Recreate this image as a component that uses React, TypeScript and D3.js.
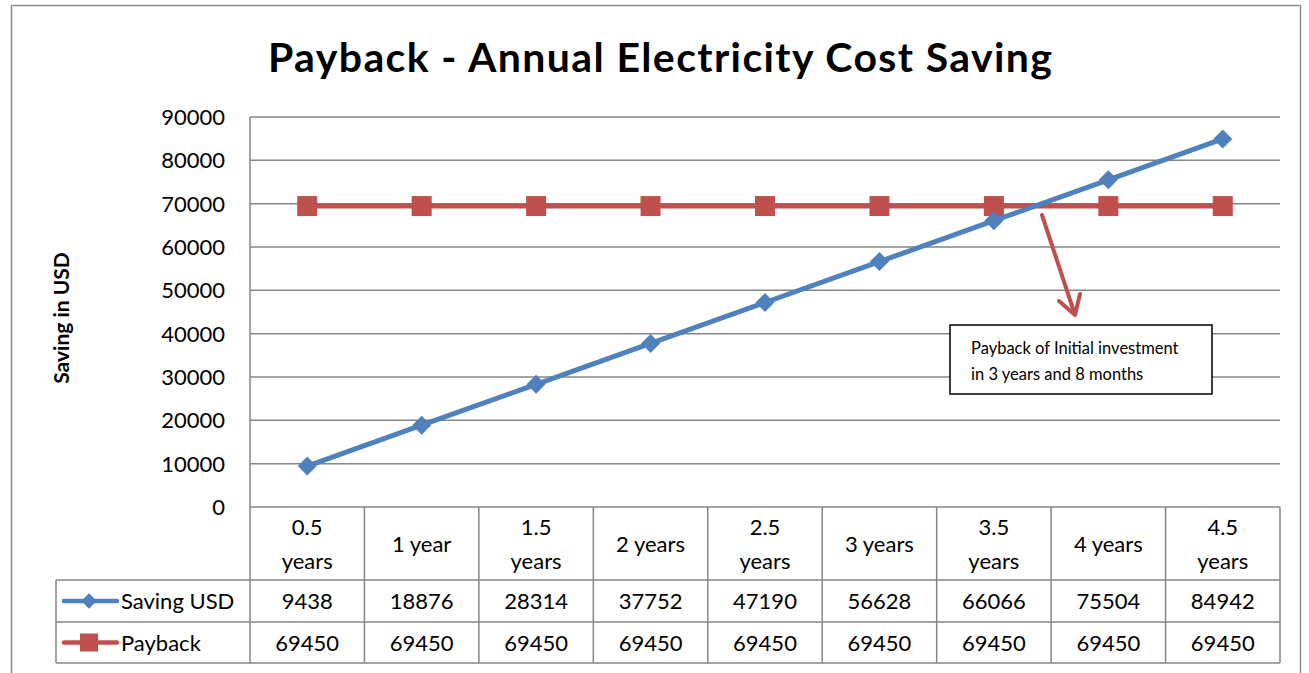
import React, { useEffect, useRef } from 'react';
import * as d3 from 'd3';

const categories = [
  ['0.5', 'years'],
  ['1 year'],
  ['1.5', 'years'],
  ['2 years'],
  ['2.5', 'years'],
  ['3 years'],
  ['3.5', 'years'],
  ['4 years'],
  ['4.5', 'years']
];
const savingUsd = [9438, 18876, 28314, 37752, 47190, 56628, 66066, 75504, 84942];
const payback = [69450, 69450, 69450, 69450, 69450, 69450, 69450, 69450, 69450];
const yTicks = [0, 10000, 20000, 30000, 40000, 50000, 60000, 70000, 80000, 90000];
const seriesNames = ['Saving USD', 'Payback'];

const BLUE = '#4f81bd';
const RED = '#c0504d';
const GRID = '#868686';
const FONT = 'Lato, "Open Sans", sans-serif';

const App = () => {
  const svgRef = useRef<SVGSVGElement>(null);
  const width = 1309;
  const height = 673;

  useEffect(() => {
    const svg = d3.select(svgRef.current);
    svg.selectAll('*').remove();

    const plot = { left: 250, right: 1280, top: 117, bottom: 507 };
    const tableLeft = 56;
    const rowY = [507, 580, 622, 663];

    const x = d3.scaleBand<number>()
      .domain(d3.range(categories.length))
      .range([plot.left, plot.right])
      .padding(0);
    const y = d3.scaleLinear().domain([0, 90000]).range([plot.bottom, plot.top]);
    const cx = (i: number) => (x(i) as number) + x.bandwidth() / 2;

    // marco exterior
    svg.append('rect')
      .attr('x', 11.5).attr('y', 5.5)
      .attr('width', 1289).attr('height', 700)
      .attr('fill', '#fff').attr('stroke', '#8c8c8c').attr('stroke-width', 1.5);

    // titulo
    svg.append('text')
      .attr('x', 660).attr('y', 72)
      .attr('text-anchor', 'middle')
      .attr('font-family', FONT).attr('font-weight', 'bold').attr('font-size', 41)
      .attr('textLength', 784).attr('lengthAdjust', 'spacing')
      .text('Payback - Annual Electricity Cost Saving');

    // titulo eje Y
    svg.append('text')
      .attr('transform', `translate(69,318) rotate(-90)`)
      .attr('text-anchor', 'middle')
      .attr('font-family', FONT).attr('font-weight', 'bold').attr('font-size', 21)
      .text('Saving in USD');

    // rejilla
    svg.append('g').selectAll('line')
      .data(yTicks)
      .enter().append('line')
      .attr('x1', plot.left).attr('x2', plot.right)
      .attr('y1', d => y(d)).attr('y2', d => y(d))
      .attr('stroke', GRID).attr('stroke-width', 1.5);

    // etiquetas eje Y
    svg.append('g').selectAll('text')
      .data(yTicks)
      .enter().append('text')
      .attr('x', 225).attr('y', d => y(d) + 8)
      .attr('text-anchor', 'end')
      .attr('font-family', FONT).attr('font-size', 22)
      .text(d => String(d));

    // tabla de datos
    const table = svg.append('g').attr('stroke', GRID).attr('stroke-width', 1.5);
    table.append('line')
      .attr('x1', plot.left).attr('x2', plot.left)
      .attr('y1', plot.top).attr('y2', rowY[3]);
    d3.range(1, categories.length + 1).forEach(i => {
      const xx = i === categories.length ? plot.right : (x(i) as number);
      table.append('line')
        .attr('x1', xx).attr('x2', xx)
        .attr('y1', rowY[0]).attr('y2', rowY[3]);
    });
    table.append('line')
      .attr('x1', tableLeft).attr('x2', tableLeft)
      .attr('y1', rowY[1]).attr('y2', rowY[3]);
    [1, 2, 3].forEach(r => {
      table.append('line')
        .attr('x1', tableLeft).attr('x2', plot.right)
        .attr('y1', rowY[r]).attr('y2', rowY[r]);
    });

    // categorias
    categories.forEach((lines, i) => {
      const t = svg.append('text')
        .attr('text-anchor', 'middle')
        .attr('font-family', FONT).attr('font-size', 22);
      const mid = (rowY[0] + rowY[1]) / 2;
      lines.forEach((ln, k) => {
        t.append('tspan')
          .attr('x', cx(i))
          .attr('y', mid + 8 + (k - (lines.length - 1) / 2) * 34)
          .text(ln);
      });
    });

    // filas de valores
    [savingUsd, payback].forEach((vals, r) => {
      const mid = (rowY[r + 1] + rowY[r + 2]) / 2;
      svg.append('g').selectAll('text')
        .data(vals)
        .enter().append('text')
        .attr('x', (d, i) => cx(i)).attr('y', mid + 8)
        .attr('text-anchor', 'middle')
        .attr('font-family', FONT).attr('font-size', 22)
        .text(d => String(d));

      // leyenda
      const color = r === 0 ? BLUE : RED;
      svg.append('line')
        .attr('x1', 64).attr('x2', 117).attr('y1', mid).attr('y2', mid)
        .attr('stroke', color).attr('stroke-width', 4.5).attr('stroke-linecap', 'round');
      if (r === 0) {
        svg.append('path')
          .attr('d', d3.symbol().type(d3.symbolDiamond2).size(150)())
          .attr('transform', `translate(89,${mid})`)
          .attr('fill', color);
      } else {
        svg.append('rect')
          .attr('x', 80).attr('y', mid - 9).attr('width', 18).attr('height', 18)
          .attr('fill', color);
      }
      svg.append('text')
        .attr('x', 121).attr('y', mid + 8)
        .attr('font-family', FONT).attr('font-size', 22)
        .text(seriesNames[r]);
    });

    // lineas
    const line = d3.line<number>()
      .x((d, i) => cx(i))
      .y(d => y(d));

    svg.append('path')
      .datum(payback)
      .attr('d', line)
      .attr('fill', 'none').attr('stroke', RED).attr('stroke-width', 5);
    svg.append('g').selectAll('rect')
      .data(payback)
      .enter().append('rect')
      .attr('x', (d, i) => cx(i) - 10).attr('y', d => y(d) - 10)
      .attr('width', 20).attr('height', 20)
      .attr('fill', RED);

    svg.append('path')
      .datum(savingUsd)
      .attr('d', line)
      .attr('fill', 'none').attr('stroke', BLUE).attr('stroke-width', 5);
    svg.append('g').selectAll('path')
      .data(savingUsd)
      .enter().append('path')
      .attr('d', d3.symbol().type(d3.symbolDiamond2).size(230)())
      .attr('transform', (d, i) => `translate(${cx(i)},${y(d)})`)
      .attr('fill', BLUE);

    // flecha de anotacion
    svg.append('path')
      .attr('d', 'M1042,215 L1075,315 M1059,301 L1075,315 L1080,294')
      .attr('fill', 'none').attr('stroke', RED).attr('stroke-width', 4)
      .attr('stroke-linecap', 'round').attr('stroke-linejoin', 'round');

    // cuadro de anotacion
    svg.append('rect')
      .attr('x', 950).attr('y', 325).attr('width', 262).attr('height', 69)
      .attr('fill', '#fff').attr('stroke', '#000').attr('stroke-width', 1.5);
    const note = svg.append('text')
      .attr('font-family', FONT).attr('font-size', 16.5);
    note.append('tspan').attr('x', 971).attr('y', 354).text('Payback of Initial investment');
    note.append('tspan').attr('x', 971).attr('y', 380).text('in 3 years and 8 months');
  }, []);

  return (
    <div style={{ position: 'absolute', left: 0, top: 0, width, height, overflow: 'hidden', background: '#fff' }}>
      <svg ref={svgRef} width={width} height={height} />
    </div>
  );
};

export default App;
